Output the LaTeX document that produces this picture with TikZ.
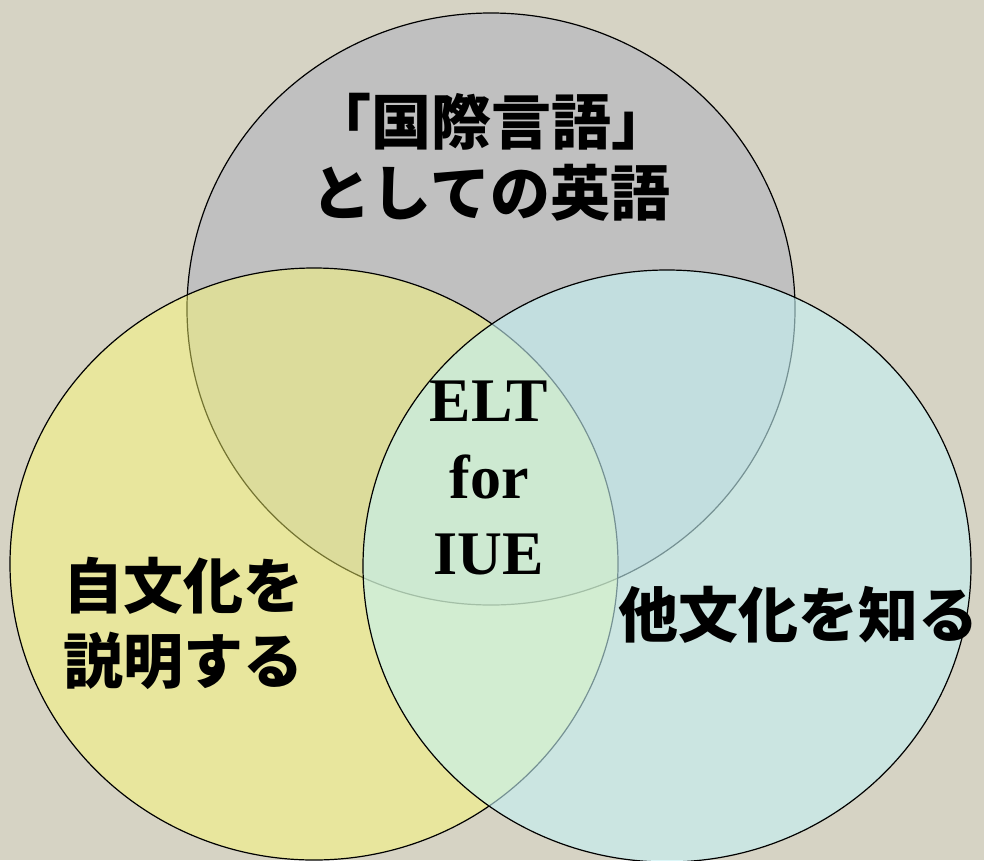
\documentclass[tikz,border=0pt]{standalone}
\usepackage{fontspec}
\setmainfont{Liberation Serif}
\newfontfamily\jpfont{Noto Sans CJK JP}
\definecolor{bgcol}{RGB}{214,211,196}
\definecolor{topfill}{RGB}{192,192,192}
\definecolor{leftfill}{RGB}{255,255,110}
\definecolor{rightfill}{RGB}{196,242,245}
\tikzset{
  venn/.style={draw=black, line width=1.2pt},
  jptext/.style={font=\jpfont\bfseries\fontsize{60}{71}\selectfont, align=center, inner sep=0pt},
  entext/.style={font=\bfseries\fontsize{62}{76.5}\selectfont, align=center, inner sep=0pt}
}
\begin{document}
\begin{tikzpicture}[x=1pt,y=-1pt]
\fill[bgcol] (0,0) rectangle (984,860);
\useasboundingbox (0,0) rectangle (984,860);
% circles
\draw[venn, fill=topfill] (491,309) ellipse [x radius=304pt, y radius=296pt];
\draw[venn, fill=leftfill, fill opacity=0.45] (314,564) ellipse [x radius=304pt, y radius=296pt];
\draw[venn, fill=rightfill, fill opacity=0.6] (667,566) ellipse [x radius=304pt, y radius=296pt];
% texts
\node[jptext] (toplabel) at (491,157.5) {「国際言語」\\としての英語};
\node[jptext, font=\jpfont\bfseries\fontsize{60}{75}\selectfont] (leftlabel) at (183,623.5) {自文化を\\説明する};
\node[jptext] (rightlabel) at (798,615) {他文化を知る};
\node[entext] (center) at (489,478) {ELT\\for\\IUE};
\end{tikzpicture}
\end{document}
